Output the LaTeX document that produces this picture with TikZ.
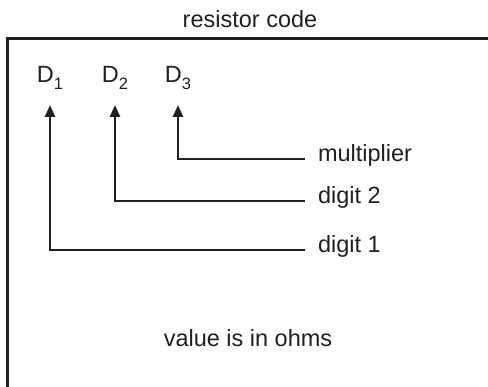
\documentclass[tikz,border=0pt]{standalone}
\usepackage{fontspec}
\setmainfont{Liberation Sans}
\usepackage{xcolor}
\definecolor{inkColor}{HTML}{231F20}
\usepackage{tikz}
\usetikzlibrary{arrows.meta, positioning, calc}

\newcommand{\digitname}[1]{D\raisebox{-7pt}{\fontsize{16.5}{16.5}\selectfont #1}}

\begin{document}
\begin{tikzpicture}[x=1pt, y=-1pt, font=\fontsize{23.5}{28}\selectfont, text=inkColor,
        >={Triangle[width=10pt, length=12pt]},
        codebox/.style={line width=3pt, draw=inkColor},
        pointer/.style={->, line width=2.6pt, draw=inkColor, shorten >=15pt},
        digitlabel/.style={anchor=south, inner sep=0pt},
        fieldlabel/.style={anchor=mid west, inner xsep=13pt, inner ysep=0pt, outer sep=0pt}]
        \useasboundingbox (0,0) rectangle (488,387);

        % Title and frame
        \node[anchor=base] (title) at (250,28) {resistor code};
        \draw[codebox] (7,395) -- (7,39) -- (495,39);

        % Code digits
        \node[digitlabel] (D1) at (50,90) {\digitname{1}};
        \node[digitlabel] (D2) at (115,90) {\digitname{2}};
        \node[digitlabel] (D3) at (178,90) {\digitname{3}};

        % Field labels
        \node[fieldlabel] (mult) at (305,159) {multiplier};
        \node[fieldlabel] (dig2) at (305,201) {digit 2};
        \node[fieldlabel] (dig1) at (305,250) {digit 1};

        % Pointers
        \draw[pointer] (mult.mid west) -| (D3.south);
        \draw[pointer] (dig2.mid west) -| (D2.south);
        \draw[pointer] (dig1.mid west) -| (D1.south);

        % Unit note
        \node[anchor=base] (note) at (248,347) {value is in ohms};
    \end{tikzpicture}
\end{document}
